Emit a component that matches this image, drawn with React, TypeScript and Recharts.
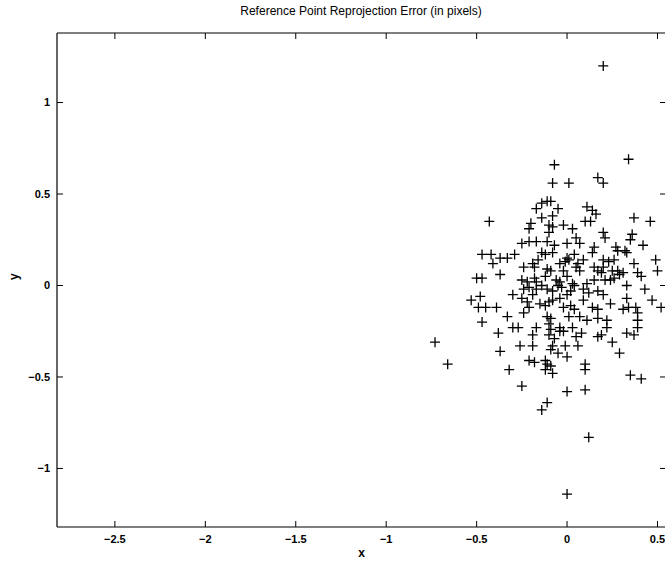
import React from 'react';
import { ScatterChart, Scatter, XAxis, YAxis } from 'recharts';

// Reprojection error of reference points (pixels)
const errX = [
  0.20, -0.07, 0.34, -0.08, 0.01, 0.17, 0.20, -0.43, -0.14, -0.11,
  -0.09, -0.17, -0.05, -0.14, -0.08, 0.11, 0.14, 0.16, 0.37, 0.46,
  0.10, 0.13, -0.20, -0.02, 0.03, -0.10, -0.21, -0.10, -0.08, 0.20,
  0.21, 0.36, 0.35, 0.42, 0.05, 0.07, 0.00, 0.15, 0.14, 0.28,
  0.32, 0.33, 0.49, 0.50, 0.37, -0.25, -0.21, -0.17, -0.11, -0.47,
  -0.42, -0.37, -0.33, -0.29, -0.41, -0.14, -0.12, -0.08, 0.00, 0.04,
  0.09, 0.20, 0.23, 0.26, -0.24, -0.19, -0.18, -0.11, -0.09, -0.04,
  -0.01, 0.01, 0.05, 0.07, 0.15, 0.17, 0.20, 0.25, 0.28, 0.31,
  0.39, 0.41, -0.50, -0.47, -0.37, -0.25, -0.22, -0.18, -0.17, -0.12,
  -0.06, -0.04, 0.00, 0.03, 0.04, 0.09, 0.11, 0.15, 0.21, 0.24,
  0.26, 0.33, 0.29, -0.24, -0.21, -0.17, -0.19, -0.11, -0.08, -0.03,
  0.17, 0.20, 0.43, 0.47, -0.53, -0.48, -0.49, -0.45, -0.39, -0.25,
  -0.22, -0.21, -0.15, -0.12, -0.10, -0.08, -0.04, -0.02, 0.02, 0.04,
  0.09, 0.14, 0.17, 0.33, 0.31, 0.34, 0.38, 0.39, 0.52, -0.33,
  -0.24, -0.11, -0.09, 0.01, 0.07, 0.11, 0.17, 0.22, 0.39, -0.47,
  -0.38, -0.30, -0.27, -0.17, -0.10, -0.09, -0.04, -0.02, 0.03, 0.22,
  0.19, 0.17, 0.33, 0.37, 0.39, -0.19, -0.10, -0.07, -0.04, 0.05,
  0.06, 0.25, -0.26, -0.19, -0.08, -0.01, 0.29, -0.73, -0.37, -0.05,
  0.00, -0.21, -0.18, -0.12, -0.11, -0.09, -0.66, -0.32, -0.12, -0.08,
  0.10, 0.10, 0.35, 0.41, -0.25, 0.00, 0.10, -0.11, -0.14, 0.12,
  0.00, -0.05, 0.02, -0.14, 0.12, -0.02, 0.06, -0.09, 0.08, 0.19,
  -0.07, 0.24, -0.30, 0.27, -0.16, 0.00,
];

const errY = [
  1.20, 0.66, 0.69, 0.56, 0.56, 0.59, 0.56, 0.35, 0.45, 0.46,
  0.46, 0.42, 0.42, 0.37, 0.38, 0.43, 0.41, 0.39, 0.37, 0.35,
  0.35, 0.35, 0.34, 0.33, 0.31, 0.33, 0.31, 0.29, 0.32, 0.29,
  0.26, 0.28, 0.25, 0.22, 0.26, 0.23, 0.23, 0.21, 0.18, 0.19,
  0.19, 0.18, 0.14, 0.08, 0.12, 0.23, 0.24, 0.24, 0.24, 0.17,
  0.17, 0.15, 0.15, 0.17, 0.12, 0.18, 0.17, 0.18, 0.15, 0.17,
  0.14, 0.14, 0.13, 0.14, 0.10, 0.12, 0.10, 0.09, 0.08, 0.12,
  0.13, 0.14, 0.10, 0.08, 0.10, 0.08, 0.10, 0.08, 0.08, 0.07,
  0.07, 0.05, 0.04, 0.04, 0.06, 0.03, 0.02, 0.04, 0.02, 0.05,
  0.03, 0.02, 0.05, 0.01, 0.00, -0.02, 0.01, 0.03, 0.03, 0.03,
  0.04, 0.00, 0.06, -0.02, -0.01, -0.02, -0.05, -0.02, -0.03, -0.01,
  -0.03, -0.05, -0.02, -0.08, -0.08, -0.06, -0.12, -0.12, -0.12, -0.07,
  -0.09, -0.12, -0.10, -0.11, -0.09, -0.08, -0.07, -0.12, -0.11, -0.13,
  -0.08, -0.12, -0.13, -0.07, -0.13, -0.12, -0.12, -0.15, -0.12, -0.17,
  -0.15, -0.17, -0.18, -0.17, -0.17, -0.19, -0.18, -0.19, -0.19, -0.20,
  -0.26, -0.23, -0.23, -0.23, -0.21, -0.24, -0.23, -0.25, -0.23, -0.23,
  -0.27, -0.28, -0.26, -0.27, -0.23, -0.27, -0.27, -0.29, -0.25, -0.28,
  -0.33, -0.31, -0.33, -0.33, -0.33, -0.33, -0.37, -0.31, -0.36, -0.37,
  -0.39, -0.41, -0.42, -0.41, -0.43, -0.44, -0.43, -0.46, -0.46, -0.48,
  -0.43, -0.46, -0.49, -0.51, -0.55, -0.58, -0.57, -0.64, -0.68, -0.83,
  -1.14, 0.00, -0.03, 0.00, -0.04, 0.08, 0.12, -0.35, -0.26, 0.07,
  0.22, -0.10, -0.05, 0.21, 0.14, -0.05,
];

const xTicks = [-2.5, -2, -1.5, -1, -0.5, 0, 0.5];
const yTicks = [-1, -0.5, 0, 0.5, 1];
const xDomain = [-2.82, 0.547];
const yDomain = [-1.32, 1.38];

const points = errX.map((x, i) => ({ x, y: errY[i] }));

const fmt = (v: number) => (v < 0 ? '\u2212' + String(Math.abs(v)) : String(v));

const FONT = '"Liberation Sans", Arial, Helvetica, sans-serif';
const TICK_LEN = 6;
const BOTTOM_MARGIN = 8;
const LEFT_MARGIN = 7;

const Plus = (props: any) => {
  const { cx, cy } = props;
  if (cx == null || cy == null) return null;
  const h = 5;
  return (
    <path
      d={`M${cx - h},${cy}H${cx + h}M${cx},${cy - h}V${cy + h}`}
      stroke="#000"
      strokeWidth={1.3}
      fill="none"
    />
  );
};

const Nothing = () => null;

const labelText = { fill: '#000', fontSize: 11, fontWeight: 700, fontFamily: FONT };
const axisTitle = { fill: '#000', fontSize: 12, fontWeight: 700, fontFamily: FONT };

const bottomTick = (props: any) => {
  const { x, y, payload } = props;
  const axisY = y - BOTTOM_MARGIN;
  return (
    <g>
      <line x1={x} x2={x} y1={axisY} y2={axisY - TICK_LEN} stroke="#000" strokeWidth={1} />
      <text x={x} y={y} dy="0.75em" textAnchor="middle" style={labelText}>
        {fmt(payload.value)}
      </text>
    </g>
  );
};

const leftTick = (props: any) => {
  const { x, y, payload } = props;
  const axisX = x + LEFT_MARGIN;
  return (
    <g>
      <line x1={axisX} x2={axisX + TICK_LEN} y1={y} y2={y} stroke="#000" strokeWidth={1} />
      <text x={x} y={y} dy="0.36em" textAnchor="end" style={labelText}>
        {fmt(payload.value)}
      </text>
    </g>
  );
};

const topTick = (props: any) => {
  const { x, y } = props;
  return <line x1={x} x2={x} y1={y} y2={y + TICK_LEN} stroke="#000" strokeWidth={1} />;
};

const rightTick = (props: any) => {
  const { x, y } = props;
  return <line x1={x} x2={x - TICK_LEN} y1={y} y2={y} stroke="#000" strokeWidth={1} />;
};

export default function App() {
  return (
    <div
      style={{
        position: 'fixed',
        left: 0,
        top: 0,
        width: 665,
        height: 562,
        overflow: 'hidden',
        background: '#fff',
      }}
    >
      <div
        style={{
          position: 'absolute',
          left: 0,
          width: 722,
          top: 4,
          textAlign: 'center',
          fontFamily: FONT,
          fontSize: 12,
          color: '#000',
        }}
      >
        Reference Point Reprojection Error (in pixels)
      </div>
      <ScatterChart
        width={680}
        height={562}
        margin={{ top: 31, right: 12, left: 0, bottom: 0 }}
        style={{ position: 'absolute', left: 0, top: 0 }}
      >
        <XAxis
          xAxisId="main"
          dataKey="x"
          type="number"
          orientation="bottom"
          domain={xDomain}
          ticks={xTicks}
          allowDataOverflow
          height={35}
          tick={bottomTick}
          tickLine={false}
          tickSize={0}
          tickMargin={BOTTOM_MARGIN}
          axisLine={{ stroke: '#000', strokeWidth: 1.2 }}
          label={{ value: 'x', position: 'insideBottom', offset: 5, style: axisTitle }}
        />
        <XAxis
          xAxisId="top"
          dataKey="x"
          type="number"
          orientation="top"
          domain={xDomain}
          ticks={xTicks}
          allowDataOverflow
          height={2}
          tick={topTick}
          tickLine={false}
          tickSize={0}
          tickMargin={0}
          axisLine={{ stroke: '#000', strokeWidth: 1.2 }}
        />
        <YAxis
          yAxisId="main"
          dataKey="y"
          type="number"
          orientation="left"
          domain={yDomain}
          ticks={yTicks}
          allowDataOverflow
          width={57}
          tick={leftTick}
          tickLine={false}
          tickSize={0}
          tickMargin={LEFT_MARGIN}
          axisLine={{ stroke: '#000', strokeWidth: 1.2 }}
          label={{ value: 'y', angle: -90, position: 'insideLeft', offset: 14, style: axisTitle }}
        />
        <YAxis
          yAxisId="right"
          dataKey="y"
          type="number"
          orientation="right"
          domain={yDomain}
          ticks={yTicks}
          allowDataOverflow
          width={2}
          tick={rightTick}
          tickLine={false}
          tickSize={0}
          tickMargin={0}
          axisLine={{ stroke: '#000', strokeWidth: 1.2 }}
        />
        <Scatter
          xAxisId="top"
          yAxisId="right"
          data={points}
          shape={Nothing}
          isAnimationActive={false}
        />
        <Scatter
          xAxisId="main"
          yAxisId="main"
          data={points}
          shape={Plus}
          isAnimationActive={false}
        />
      </ScatterChart>
    </div>
  );
}
